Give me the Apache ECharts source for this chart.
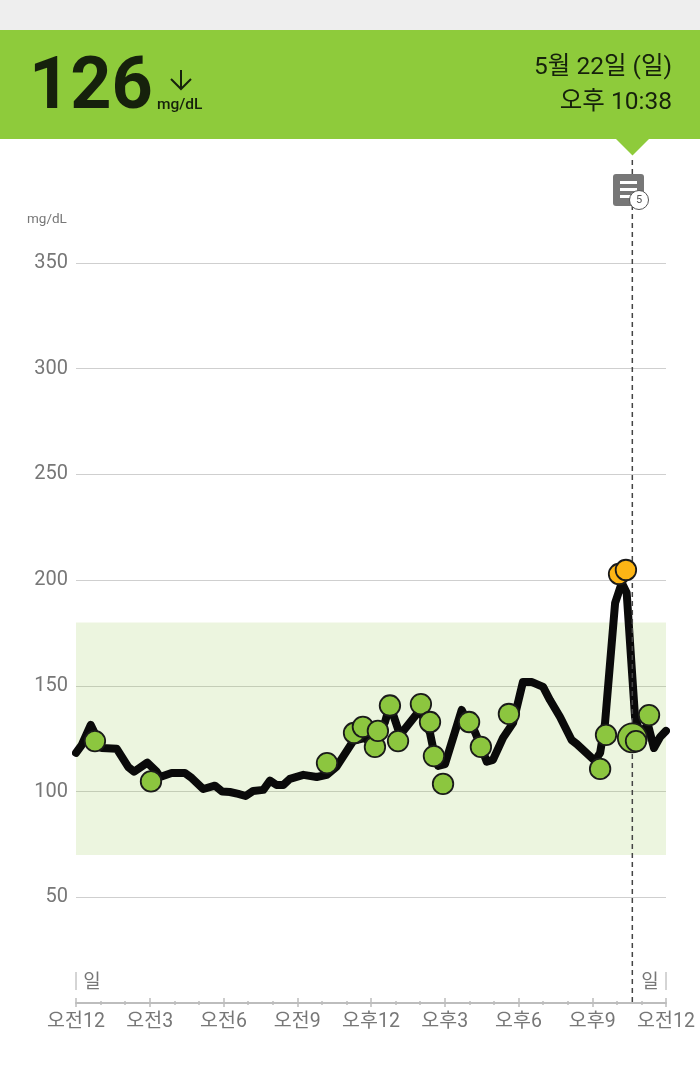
<!DOCTYPE html>
<html>
<head>
<meta charset="utf-8">
<title>혈당</title>
<style>
  html, body { margin: 0; padding: 0; background: #fff; }
  #main { width: 700px; height: 1069px; }
</style>
<script src="https://cdn.jsdelivr.net/npm/echarts@6/dist/echarts.min.js"></script>
</head>
<body>
<div id="main"></div>
<script>
// glucose trace, hours since midnight / mg/dL
const traceHours = [0, 0.23, 0.6, 1.05, 1.66, 2.13, 2.36, 2.9, 3.28, 3.42, 3.89, 4.43, 4.71, 5.18, 5.65, 5.95, 6.26, 6.6, 6.9, 7.21, 7.62, 7.89, 8.16, 8.43, 8.7, 9.25, 9.79, 10.2, 10.6, 11.28, 11.76, 12.04, 12.57, 12.77, 13.18, 13.99, 14.4, 14.6, 14.73, 15.01, 15.69, 15.95, 16.23, 16.5, 16.71, 16.96, 17.37, 17.78, 18.18, 18.55, 19, 19.28, 19.69, 20.16, 20.37, 21.11, 21.32, 21.52, 21.93, 22.2, 22.4, 22.74, 22.94, 23.27, 23.51, 23.76, 24];
const traceValues = [118.3, 122, 131.5, 120.6, 120.2, 111.6, 109.4, 113.7, 109.4, 106.9, 108.8, 108.8, 106.4, 101.2, 102.8, 100, 99.8, 98.9, 97.9, 100.3, 100.8, 105.2, 103.1, 103.1, 106, 107.9, 106.9, 107.9, 111.8, 124, 125.4, 122, 132.9, 141, 126.8, 138.6, 127.7, 116.4, 112.1, 113, 138.6, 132.5, 128.2, 120.6, 114.1, 115, 125.4, 132.5, 151.8, 151.8, 149.5, 143.3, 135.3, 124.4, 122.5, 114.5, 118.3, 132.5, 189.2, 198.7, 194, 135.3, 127.7, 131.5, 120.6, 125.8, 128.7];

// scanned readings
const scanHours = [0.77, 3.05, 10.21, 11.31, 11.67, 12.16, 12.28, 12.77, 13.1, 14.03, 14.4, 14.56, 14.93, 15.99, 16.47, 17.61, 21.32, 21.56, 23.31];
const scanValues = [123.9, 104.8, 113.5, 127.7, 130.6, 121.1, 128.7, 140.7, 123.9, 141.4, 132.9, 116.8, 103.6, 132.9, 121.1, 136.7, 110.7, 126.8, 136.2];
const highHours = [22.09, 22.37];
const highValues = [202.9, 204.8];
const selectedHour = 22.63;
const selectedValue = 125.4;
const lastScanHour = 22.78;
const lastScanValue = 123.9;

const targetLow = 70;
const targetHigh = 180;
const xTickLabels = ['오전12', '오전3', '오전6', '오전9', '오후12', '오후3', '오후6', '오후9', '오전12'];

const GREEN = '#8ecb3b';
const DOT = '#8cc63f';
const ORANGE = '#fdb515';
const INK = '#16210c';
const GREY = '#777777';
const KO = 'Roboto, "Noto Sans CJK KR", sans-serif';

function pairs(xs, ys) {
  return xs.map((x, i) => [x, ys[i]]);
}

function txt(x, y, text, size, color, align, weight) {
  return {
    type: 'text', x: x, y: y, z: 20,
    style: { text: text, fontSize: size, fill: color, align: align || 'left', verticalAlign: 'middle', fontFamily: KO, fontWeight: weight || 'normal' }
  };
}

function dots(name, xs, ys, size, color, z) {
  return {
    name: name,
    type: 'scatter',
    z: z,
    data: pairs(xs, ys),
    symbolSize: size,
    itemStyle: { color: color, borderColor: '#1a1a1a', borderWidth: 1.8, opacity: 1 }
  };
}

let myChart = echarts.init(document.getElementById('main'));
let option = {
  animation: false,
  backgroundColor: '#fff',
  grid: { left: 76, right: 34, top: 263, bottom: 66 },
  xAxis: [
    {
      type: 'value', min: 0, max: 24, interval: 3,
      axisLine: { show: true, lineStyle: { color: '#bdbdbd', width: 2 } },
      axisTick: { show: true, length: 4, lineStyle: { color: '#bdbdbd', width: 1.5 } },
      minorTick: { show: true, splitNumber: 3, length: 2, lineStyle: { color: '#bdbdbd', width: 1.5 } },
      splitLine: { show: false },
      axisLabel: {
        color: GREY, fontSize: 19.5, fontFamily: KO, margin: 9, hideOverlap: false,
        formatter: (v) => xTickLabels[v / 3]
      }
    },
    {
      // second axis only for the half of each tick above the line
      type: 'value', min: 0, max: 24, interval: 3, position: 'bottom',
      axisLine: { show: false },
      axisTick: { show: true, inside: true, length: 5, lineStyle: { color: '#bdbdbd', width: 1.5 } },
      minorTick: { show: true, splitNumber: 3, length: 2, lineStyle: { color: '#bdbdbd', width: 1.5 } },
      splitLine: { show: false },
      axisLabel: { show: false }
    }
  ],
  yAxis: {
    type: 'value', min: 0, max: 350, interval: 50,
    axisLine: { show: false },
    axisTick: { show: false },
    splitLine: { lineStyle: { color: '#cfcfcf', width: 1 } },
    axisLabel: {
      color: GREY, fontSize: 20, fontFamily: KO, margin: 8, padding: [2, 0, 0, 0],
      formatter: (v) => (v === 0 ? '' : String(v))
    }
  },
  series: [
    {
      name: 'trace',
      type: 'line',
      z: 3,
      data: pairs(traceHours, traceValues),
      showSymbol: false,
      symbol: 'none',
      lineStyle: { color: '#0a0a0a', width: 8, join: 'round', cap: 'round' },
      markArea: {
        silent: true,
        itemStyle: { color: 'rgba(141,198,63,0.17)' },
        data: [[{ yAxis: targetLow }, { yAxis: targetHigh }]]
      }
    },
    {
      name: 'cursor',
      type: 'line',
      z: 4,
      clip: false,
      data: [[selectedHour, 0.5], [selectedHour, 400]],
      symbol: 'none',
      lineStyle: { color: '#444', width: 1.5, type: [5, 4] }
    },
    dots('high', highHours, highValues, 20.5, ORANGE, 5),
    dots('scan', scanHours, scanValues, 20.5, DOT, 6),
    dots('selected', [selectedHour], [selectedValue], 29, DOT, 7),
    dots('lastScan', [lastScanHour], [lastScanValue], 20.5, DOT, 8)
  ],
  graphic: [
    { type: 'rect', z: 10, shape: { x: 0, y: 0, width: 700, height: 30 }, style: { fill: '#eeeeee' } },
    { type: 'rect', z: 10, shape: { x: 0, y: 30, width: 700, height: 109 }, style: { fill: GREEN } },
    { type: 'polygon', z: 10, shape: { points: [[616, 139], [649, 139], [632.5, 155.5]] }, style: { fill: GREEN } },
    txt(29, 90, '126', 72, INK, 'left', 'bold'),
    { type: 'polyline', z: 20, shape: { points: [[171, 79], [181, 89], [191, 79]] }, style: { stroke: INK, lineWidth: 2, fill: null } },
    { type: 'line', z: 20, shape: { x1: 181, y1: 70, x2: 181, y2: 89 }, style: { stroke: INK, lineWidth: 2 } },
    txt(157, 105, 'mg/dL', 15.5, INK, 'left', 500),
    txt(672, 68, '5월 22일 (일)', 24.5, INK, 'right'),
    txt(672, 103, '오후 10:38', 24.5, INK, 'right'),
    txt(27, 220, 'mg/dL', 13.5, GREY),
    // memo icon
    { type: 'rect', z: 15, shape: { x: 613, y: 174, width: 31, height: 32, r: 3 }, style: { fill: '#777' } },
    { type: 'rect', z: 16, shape: { x: 620, y: 181, width: 17, height: 3 }, style: { fill: '#fff' } },
    { type: 'rect', z: 16, shape: { x: 620, y: 188, width: 17, height: 3 }, style: { fill: '#fff' } },
    { type: 'rect', z: 16, shape: { x: 620, y: 195, width: 12, height: 3 }, style: { fill: '#fff' } },
    { type: 'circle', z: 17, shape: { cx: 639, cy: 200, r: 9.5 }, style: { fill: '#fff', stroke: '#555', lineWidth: 1 } },
    txt(639, 200, '5', 11, '#555', 'center'),
    // day markers
    { type: 'line', z: 15, shape: { x1: 76, y1: 972, x2: 76, y2: 990 }, style: { stroke: '#aaa', lineWidth: 1 } },
    { type: 'line', z: 15, shape: { x1: 666, y1: 972, x2: 666, y2: 990 }, style: { stroke: '#aaa', lineWidth: 1 } },
    txt(92, 983, '일', 19, GREY, 'center'),
    txt(650, 983, '일', 19, GREY, 'center')
  ]
};
myChart.setOption(option);
</script>
</body>
</html>
